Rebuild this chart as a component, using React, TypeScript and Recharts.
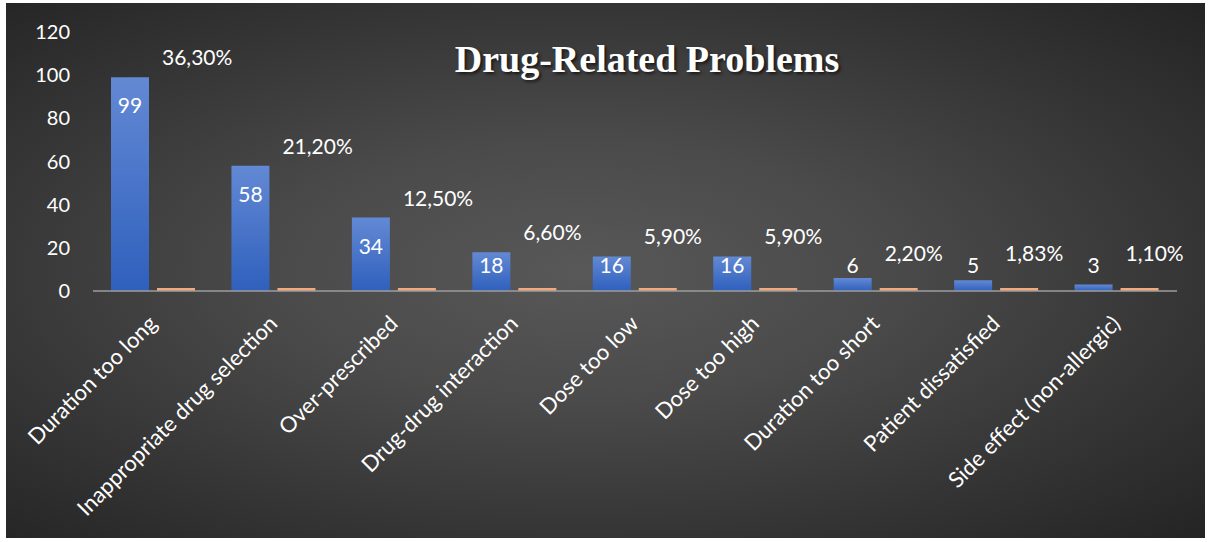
import { BarChart, Bar, XAxis, YAxis, LabelList } from "recharts";

const categories = [
  "Duration too long",
  "Inappropriate drug selection",
  "Over-prescribed",
  "Drug-drug interaction",
  "Dose too low",
  "Dose too high",
  "Duration too short",
  "Patient dissatisfied",
  "Side effect (non-allergic)",
];
const counts = [99, 58, 34, 18, 16, 16, 6, 5, 3];
const shares = [0.363, 0.212, 0.125, 0.066, 0.059, 0.059, 0.022, 0.0183, 0.011];
const yTicks = [0, 20, 40, 60, 80, 100, 120];

const data = categories.map((name, i) => ({
  name,
  count: counts[i],
  share: shares[i],
}));

const W = 1199;
const H = 535;
const TOP = 29;
const AXIS_Y = 288;
const UNIT = (AXIS_Y - TOP) / 120;
const FONT = "Lato, 'Open Sans', sans-serif";

const fmtShare = (v: number) => (v * 100).toFixed(2).replace(".", ",") + "%";

function CategoryTick(props: any) {
  const { x, y, payload } = props;
  const ax = x + 5;
  const ay = y + 26;
  return (
    <text
      x={ax}
      y={ay}
      transform={`rotate(-45, ${ax}, ${ay})`}
      textAnchor="end"
      fill="#ffffff"
      fontSize={22}
      fontFamily={FONT}
    >
      {payload.value}
    </text>
  );
}

function CountLabel(props: any) {
  const { x, y, width, value } = props;
  const ty = Math.min(y + 36, AXIS_Y - 18);
  return (
    <text x={x + width / 2} y={ty} textAnchor="middle" fill="#ffffff" fontSize={21} fontFamily={FONT}>
      {value}
    </text>
  );
}

function ShareLabel(props: any) {
  const { x, index, value } = props;
  const blueTop = AXIS_Y - counts[index] * UNIT;
  const ty = Math.min(blueTop - 12, AXIS_Y - 30);
  return (
    <text x={x + 5} y={ty} textAnchor="start" fill="#ffffff" fontSize={21} fontFamily={FONT}>
      {fmtShare(value)}
    </text>
  );
}

export default function App() {
  return (
    <div
      style={{
        position: "absolute",
        left: 6,
        top: 3,
        width: W,
        height: H,
        background:
          "radial-gradient(ellipse farthest-corner at 48% 50%, #585858 0%, #4a4a4a 35%, #353535 70%, #242424 100%)",
      }}
    >
      <div
        style={{
          position: "absolute",
          left: 0,
          width: 1282,
          top: 37,
          textAlign: "center",
          fontFamily: "'Liberation Serif', 'Times New Roman', serif",
          fontWeight: "bold",
          fontSize: 38,
          lineHeight: "38px",
          color: "#ffffff",
          textShadow: "2px 2px 3px rgba(0,0,0,0.6)",
        }}
      >
        Drug-Related Problems
      </div>
      <BarChart
        width={W}
        height={H}
        data={data}
        margin={{ top: TOP, right: 28, left: 0, bottom: 0 }}
        barCategoryGap={18}
        barGap={8}
        style={{ position: "absolute", left: 0, top: 0 }}
      >
        <defs>
          <linearGradient id="blueFill" x1="0" y1="0" x2="0" y2="1">
            <stop offset="0%" stopColor="#6389d4" />
            <stop offset="100%" stopColor="#2f60bd" />
          </linearGradient>
        </defs>
        <XAxis
          dataKey="name"
          height={247}
          interval={0}
          tickLine={false}
          axisLine={{ stroke: "#9c9c9c", strokeWidth: 1.5 }}
          tick={<CategoryTick />}
        />
        <YAxis
          width={87}
          domain={[0, 120]}
          ticks={yTicks}
          axisLine={false}
          tickLine={false}
          tickSize={0}
          tickMargin={23}
          tick={{ fill: "#ffffff", fontSize: 20, fontFamily: FONT }}
        />
        <Bar dataKey="count" fill="url(#blueFill)" isAnimationActive={false}>
          <LabelList dataKey="count" content={<CountLabel />} />
        </Bar>
        <Bar dataKey="share" fill="#f4a97c" minPointSize={3} isAnimationActive={false}>
          <LabelList dataKey="share" content={<ShareLabel />} />
        </Bar>
      </BarChart>
    </div>
  );
}
